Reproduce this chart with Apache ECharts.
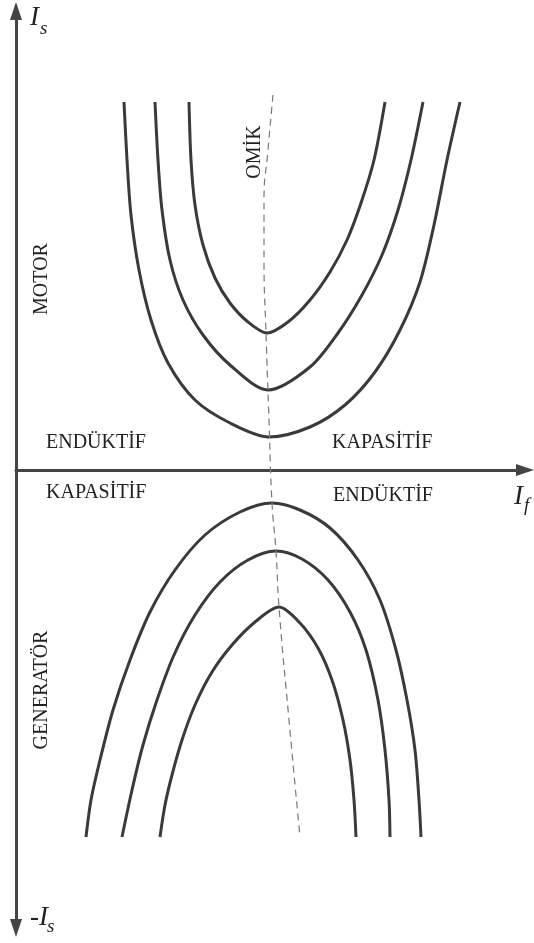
<!DOCTYPE html>
<html>
<head>
<meta charset="utf-8">
<script src="https://cdn.jsdelivr.net/npm/echarts@6/dist/echarts.min.js"></script>
<style>
html, body { margin: 0; padding: 0; background: #fff; }
#chart { width: 534px; height: 943px; }
</style>
</head>
<body>
<div id="chart"></div>
<script>
// V-curves of a synchronous machine, [If, Is] in arbitrary units
var motorInner = [[1.73,3.68],[1.75,3.10],[1.79,2.65],[1.87,2.25],[1.99,1.92],[2.14,1.67],[2.32,1.48],[2.51,1.37],
    [2.72,1.48],[2.94,1.70],[3.14,1.98],[3.31,2.30],[3.45,2.67],[3.58,3.10],[3.69,3.68]];
var motorMiddle = [[1.39,3.68],[1.42,3.10],[1.46,2.60],[1.54,2.10],[1.67,1.70],[1.87,1.35],[2.14,1.05],[2.52,0.80],
    [2.94,1.03],[3.22,1.37],[3.46,1.75],[3.66,2.15],[3.82,2.60],[3.95,3.10],[4.07,3.68]];
var motorOuter = [[1.08,3.68],[1.11,3.10],[1.15,2.55],[1.23,2.00],[1.35,1.50],[1.52,1.07],[1.79,0.70],[2.14,0.47],[2.53,0.33],
    [2.94,0.43],[3.29,0.65],[3.59,0.98],[3.84,1.40],[4.04,1.88],[4.18,2.45],[4.31,3.10],[4.44,3.68]];
var genOuter = [[0.70,-3.67],[0.75,-3.30],[0.84,-2.90],[0.97,-2.40],[1.14,-1.90],[1.34,-1.42],[1.59,-1.00],[1.89,-0.65],[2.24,-0.42],[2.56,-0.33],
    [2.84,-0.40],[3.14,-0.58],[3.42,-0.90],[3.64,-1.30],[3.80,-1.80],[3.91,-2.30],[3.99,-2.80],[4.03,-3.30],[4.05,-3.67]];
var genMiddle = [[1.06,-3.67],[1.16,-3.20],[1.27,-2.75],[1.41,-2.30],[1.58,-1.85],[1.79,-1.45],[2.04,-1.12],[2.32,-0.90],[2.60,-0.81],
    [2.86,-0.89],[3.12,-1.10],[3.34,-1.42],[3.50,-1.80],[3.62,-2.30],[3.69,-2.80],[3.73,-3.30],[3.74,-3.67]];
var genInner = [[1.44,-3.67],[1.49,-3.35],[1.56,-3.05],[1.66,-2.70],[1.79,-2.35],[1.96,-2.02],[2.16,-1.75],[2.39,-1.52],[2.63,-1.37],
    [2.84,-1.53],[3.02,-1.78],[3.16,-2.10],[3.27,-2.50],[3.34,-2.90],[3.38,-3.30],[3.40,-3.67]];
var ohmicLine = [[2.57,3.75],[2.52,3.20],[2.48,2.70],[2.48,2.10],[2.50,1.37],[2.53,0.50],[2.56,-0.33],[2.60,-0.81],[2.63,-1.37],[2.73,-2.50],[2.84,-3.67]];

var serif = "Liberation Serif";
var ink = "#3a3a3a";

function curve(name, data) {
    return {
        name: name, type: "line", data: data, smooth: 0.3, showSymbol: false, silent: true,
        lineStyle: { color: ink, width: 3 }
    };
}

function label(text, x, y, opts) {
    opts = opts || {};
    return {
        type: "text", x: x, y: y, rotation: opts.rotation || 0, silent: true,
        style: {
            text: text, fill: "#222",
            fontFamily: serif, fontSize: opts.size || 20, fontStyle: opts.italic ? "italic" : "normal",
            textAlign: opts.align || "left", textVerticalAlign: "middle"
        }
    };
}

var chart = echarts.init(document.getElementById("chart"));
chart.setOption({
    animation: false,
    grid: { left: 16, right: 9, top: 11, bottom: 15 },
    xAxis: {
        type: "value", min: 0, max: 5.09,
        axisLine: { onZero: true, symbol: ["none", "triangle"], symbolSize: [12, 18], lineStyle: { color: "#444", width: 3 } },
        axisTick: { show: false }, axisLabel: { show: false }, splitLine: { show: false }
    },
    yAxis: {
        type: "value", min: -4.58, max: 4.59,
        axisLine: { show: true, symbol: ["triangle", "triangle"], symbolSize: [12, 18], lineStyle: { color: "#444", width: 3 } },
        axisTick: { show: false }, axisLabel: { show: false }, splitLine: { show: false }
    },
    series: [
        curve("motor1", motorInner),
        curve("motor2", motorMiddle),
        curve("motor3", motorOuter),
        curve("gen1", genOuter),
        curve("gen2", genMiddle),
        curve("gen3", genInner),
        {
            name: "ohmic", type: "line", data: ohmicLine, smooth: 0.5, showSymbol: false, silent: true,
            lineStyle: { color: "#777", width: 1.2, type: [7, 5] }
        }
    ],
    graphic: [
        label("ENDÜKTİF", 46, 443),
        label("KAPASİTİF", 332, 443),
        label("KAPASİTİF", 46, 493),
        label("ENDÜKTİF", 333, 496),
        label("MOTOR", 42, 279, { align: "center", rotation: Math.PI / 2 }),
        label("GENERATÖR", 42, 690, { align: "center", rotation: Math.PI / 2 }),
        label("OMİK", 255, 152, { align: "center", rotation: Math.PI / 2 }),
        label("I", 30, 18, { italic: true, size: 27 }),
        label("s", 40, 29, { italic: true, size: 19 }),
        label("-I", 30, 918, { italic: true, size: 27 }),
        label("s", 47, 927, { italic: true, size: 19 }),
        label("I", 514, 497, { italic: true, size: 27 }),
        label("f", 524, 506, { italic: true, size: 19 })
    ]
});
</script>
</body>
</html>
